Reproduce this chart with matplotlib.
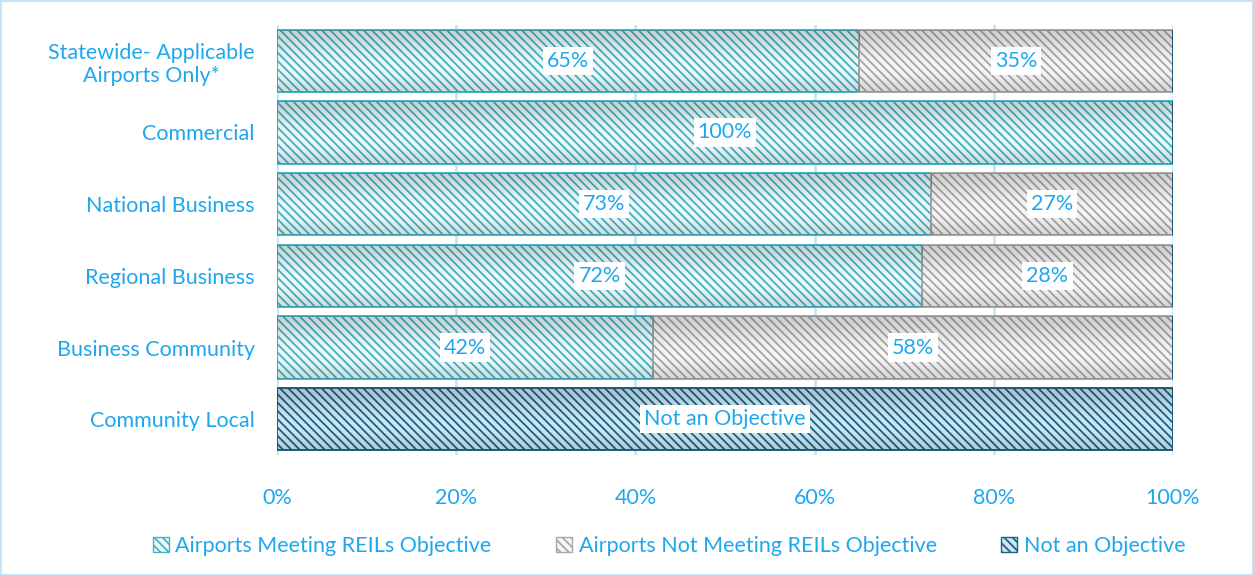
import matplotlib
matplotlib.use("Agg")
import numpy as np
from matplotlib import pyplot as plt
from matplotlib.patches import Patch

categories = ["Community Local", "Business Community", "Regional Business",
              "National Business", "Commercial",
              "Statewide- Applicable\nAirports Only*"]
meeting = [0, 42, 72, 73, 100, 65]
not_meeting = [0, 58, 28, 27, 0, 35]
not_objective = [100, 0, 0, 0, 0, 0]
series_names = ["Airports Meeting REILs Objective",
                "Airports Not Meeting REILs Objective",
                "Not an Objective"]
x_ticks = [0, 20, 40, 60, 80, 100]

blue_text = "#1ea7ee"
grid_col = "#c3e6f8"
styles = [
    dict(face="#eefafb", hatch_col="#45b3c4"),
    dict(face="#f7f7f7", hatch_col="#a8a8a8"),
    dict(face="#c9e9f6", hatch_col="#235f80"),
]
HATCH = "\\" * 4

plt.rcParams["font.family"] = ["Lato", "DejaVu Sans"]
plt.rcParams["hatch.linewidth"] = 1.3

fig = plt.figure(figsize=(12.53, 5.75), dpi=100)
fig.patch.set_edgecolor(grid_col)
fig.patch.set_linewidth(2)
ax = fig.add_axes([277 / 1253, 1 - 455 / 575, 896 / 1253, 430 / 575])

# vertical shading to suggest the cylinder look
shade = np.array([0.35, 0.05, 0.0, 0.1, 0.25, 0.45])
shade_rgba = np.zeros((shade.size, 1, 4))
shade_rgba[:, 0, 3] = shade * 0.35

y = list(range(len(categories)))
left = [0] * len(categories)
for vals, st, name in zip([meeting, not_meeting, not_objective], styles, series_names):
    bars = ax.barh(y, vals, left=left, height=0.87, color=st["face"],
                   edgecolor=st["hatch_col"], linewidth=1.4, hatch=HATCH,
                   label=name, zorder=3)
    for b, v, l in zip(bars, vals, left):
        if v <= 0:
            continue
        x0, y0, w, h = b.get_x(), b.get_y(), b.get_width(), b.get_height()
        im = ax.imshow(shade_rgba, extent=[x0, x0 + w, y0, y0 + h], aspect="auto",
                       interpolation="bicubic", zorder=4, origin="lower")
        im.set_clip_path(b)
        txt = "Not an Objective" if name == "Not an Objective" else f"{v}%"
        ax.text(l + v / 2, y0 + h / 2, txt,
                ha="center", va="center", fontsize=15.5, color=blue_text, zorder=5,
                bbox=dict(facecolor="white", edgecolor="none", pad=3))
    left = [a + b for a, b in zip(left, vals)]

ax.set_xlim(0, 100)
ax.set_ylim(-0.5, len(categories) - 0.5)
ax.set_xticks(x_ticks)
ax.set_xticklabels([f"{t}%" for t in x_ticks])
ax.set_yticks(y)
ax.set_yticklabels(categories, multialignment="center")
ax.tick_params(axis="x", length=0, pad=24, labelsize=15.5, labelcolor=blue_text)
ax.tick_params(axis="y", length=0, pad=16, labelsize=15.5, labelcolor=blue_text)
for t in x_ticks:
    ax.axvline(t, color=grid_col, linewidth=2, zorder=1)
for s in ax.spines.values():
    s.set_visible(False)
ax.patch.set_alpha(0)

handles = [Patch(facecolor=st["face"], edgecolor=st["hatch_col"], hatch=HATCH,
                 label=n) for st, n in zip(styles, series_names)]
leg = fig.legend(handles=handles, loc="center", bbox_to_anchor=(669 / 1253, 1 - 546 / 575),
                 ncol=3, frameon=False, fontsize=15.5, handlelength=0.75, handleheight=0.75,
                 handletextpad=0.3, columnspacing=3)
for t in leg.get_texts():
    t.set_color(blue_text)

fig.savefig("out.png", dpi=100)
